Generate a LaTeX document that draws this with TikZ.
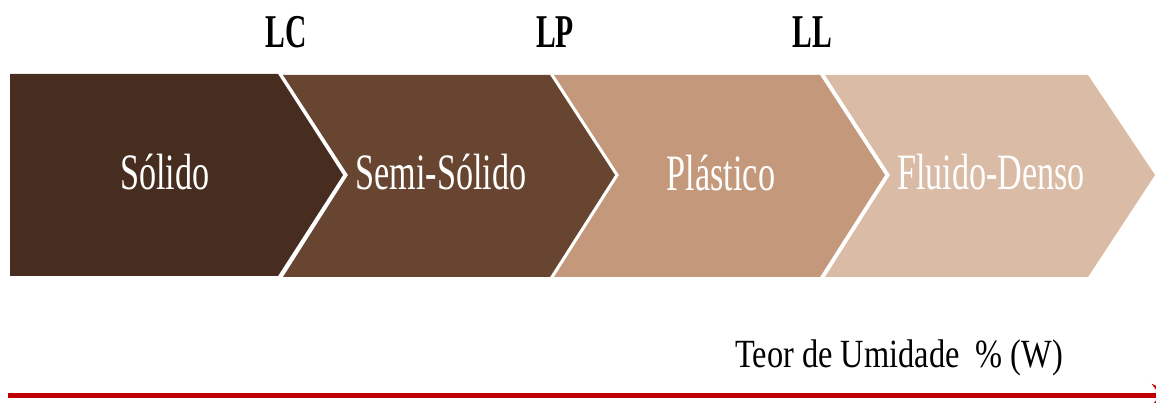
\documentclass[tikz,border=0pt]{standalone}
\usepackage{fontspec}
\setmainfont{Liberation Serif}
\usepackage{tikz}
\usetikzlibrary{arrows.meta}
\definecolor{soilsolid}{HTML}{462D20}
\definecolor{soilsemi}{HTML}{674530}
\definecolor{soilplastic}{HTML}{C4987B}
\definecolor{soilfluid}{HTML}{D9BBA6}
\definecolor{moistred}{HTML}{C00000}

\begin{document}
\begin{tikzpicture}[x=1pt, y=-1pt,
  phase/.style={text=white, anchor=base, inner sep=0pt, font=\fontsize{51}{51}\selectfont, xscale=0.67},
  limit/.style={anchor=base, inner sep=0pt, font=\fontsize{47}{47}\selectfont\bfseries, xscale=0.63}]
  \useasboundingbox (0,0) rectangle (1156,403);
  % consistency states
  \fill[soilsolid] (10,74) -- (278,74) -- (343,175) -- (278,276) -- (10,276) -- cycle;
  \fill[soilsemi] (283,75) -- (550,75) -- (615,175) -- (550,277) -- (283,277) -- (348,175) -- cycle;
  \fill[soilplastic] (554,75) -- (820,75) -- (885,175) -- (820,277) -- (554,277) -- (619,175) -- cycle;
  \fill[soilfluid] (825,75) -- (1088,75) -- (1155,175) -- (1088,277) -- (825,277) -- (890,175) -- cycle;
  \node[phase] (solido) at (165,190) {Sólido};
  \node[phase] (semisolido) at (441,190) {Semi-Sólido};
  \node[phase] (plastico) at (721,191) {Plástico};
  \node[phase] (fluido) at (991,190) {Fluido-Denso};
  % Atterberg limits
  \node[limit] (lc) at (286,48) {LC};
  \node[limit] (lp) at (555,48) {LP};
  \node[limit] (ll) at (812,48) {LL};
  % moisture axis
  \node[anchor=base west, inner sep=0pt, font=\fontsize{40}{40}\selectfont, xscale=0.81] (teor) at (735,367) {Teor de Umidade\ \ \% (W)};
  \coordinate (axisstart) at (8,395);
  \coordinate (axisend) at (1176,395);
  \draw[moistred, line width=5pt, -{Stealth[length=24pt, width=22pt]}] (axisstart) -- (axisend);
\end{tikzpicture}
\end{document}
